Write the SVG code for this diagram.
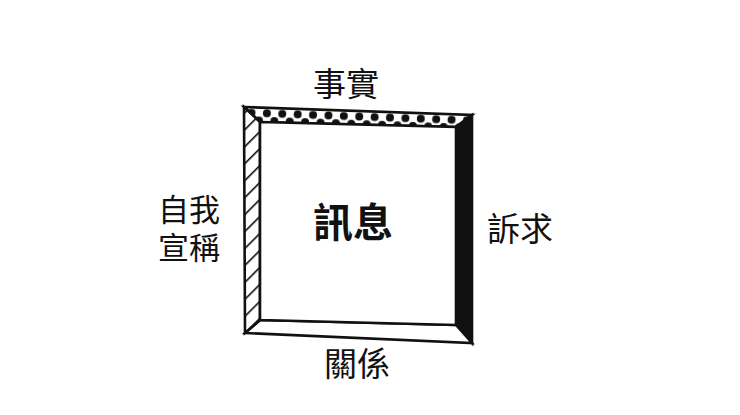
<svg xmlns="http://www.w3.org/2000/svg" width="740" height="415" viewBox="0 0 740 415">
  <style>
    .lbl { font-family: "Noto Sans CJK TC", "Noto Sans CJK SC", sans-serif; font-size: 33px; fill: #111; text-anchor: middle; }
    .side { font-size: 31px; }
    .main { font-family: "Noto Sans CJK TC", "Noto Sans CJK SC", sans-serif; font-size: 40px; font-weight: bold; fill: #111; text-anchor: middle; }
    .edge { stroke: #111; stroke-width: 2.6; stroke-linejoin: miter; }
  </style>
  <defs>
    <pattern id="dots" patternUnits="userSpaceOnUse" x="244" y="107" width="15.4" height="17" patternTransform="rotate(2 244 107)">
      <circle cx="7.7" cy="5.5" r="4" fill="#111"/>
      <circle cx="0" cy="13" r="4" fill="#111"/>
      <circle cx="15.4" cy="13" r="4" fill="#111"/>
    </pattern>
    <pattern id="hatch" patternUnits="userSpaceOnUse" x="0" y="0" width="12" height="12" patternTransform="rotate(45)">
      <rect width="12" height="12" fill="#fff"/>
      <line x1="0" y1="0" x2="0" y2="12" stroke="#111" stroke-width="3.2"/>
    </pattern>
  </defs>
  <rect width="740" height="415" fill="#fff"/>
  <g id="frame">
    <g id="top-band">
      <polygon points="244,107 472,115 456,127 260,122" fill="#fff"/>
      <polygon points="244,107 472,115 456,127 260,122" fill="url(#dots)"/>
      <polygon class="edge" points="244,107 472,115 456,127 260,122" fill="none"/>
    </g>
    <g id="right-band">
      <polygon class="edge" points="472,115 472,343 456,325 456,127" fill="#111"/>
    </g>
    <g id="bottom-band">
      <polygon class="edge" points="245,333 472,343 456,325 260,320" fill="#fff"/>
    </g>
    <g id="left-band">
      <polygon class="edge" points="244,107 260,122 260,320 245,333" fill="url(#hatch)"/>
    </g>
    <g id="center">
      <polygon class="edge" points="260,122 456,127 456,325 260,320" fill="#fff"/>
      <text class="main" x="353" y="237">訊息</text>
    </g>
  </g>
  <g id="label-top"><text class="lbl" x="346" y="96">事實</text></g>
  <g id="label-left">
    <text class="lbl side" x="189" y="221"><tspan x="189" y="221">自我</tspan><tspan x="189" y="259">宣稱</tspan></text>
  </g>
  <g id="label-right"><text class="lbl" x="520" y="241">訴求</text></g>
  <g id="label-bottom"><text class="lbl" x="357" y="376">關係</text></g>
  <g id="connectors"></g>
</svg>
